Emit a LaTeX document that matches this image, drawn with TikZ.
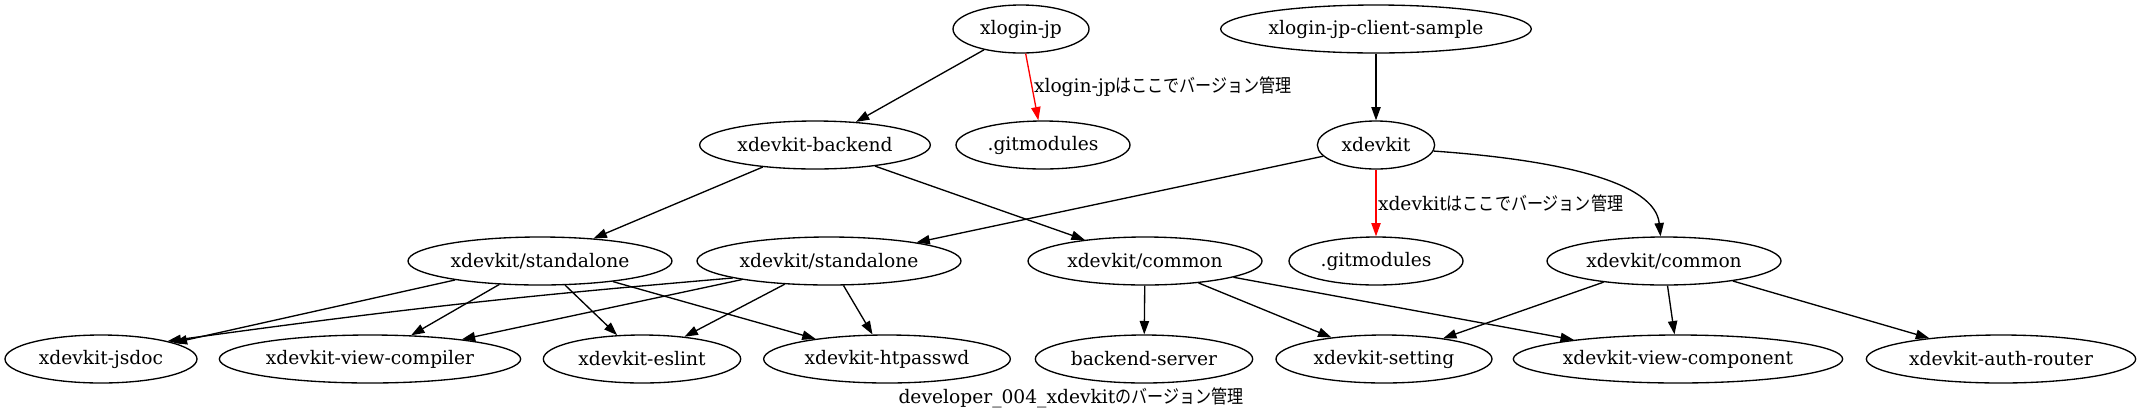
\documentclass[tikz,border=0pt]{standalone}
\usepackage{fontspec}
\setmainfont{DejaVu Serif}
\newfontfamily\jpfont[FakeStretch=0.86]{Noto Sans CJK JP}
\usetikzlibrary{arrows.meta,shapes.geometric}
\definecolor{PinRed}{RGB}{255,0,0}
\tikzset{
  repo/.style={ellipse,draw,line width=1pt,minimum height=36pt,minimum width=#1,
    inner sep=0pt,font=\fontsize{14pt}{16pt}\selectfont},
  dep/.style={-{Triangle[length=10pt,width=7pt]},line width=1pt},
  pinned/.style={dep,PinRed},
  note/.style={anchor=west,inner sep=1pt,text=black,font=\fontsize{14pt}{16pt}\selectfont}
}

\begin{document}
\begin{tikzpicture}[x=0.75pt,y=-0.75pt]
  \useasboundingbox (0,0) rectangle (2142,419);
  \node[repo=102pt] (xl) at (1021,29) {xlogin-jp};
  \node[repo=233pt] (xcs) at (1376,29) {xlogin-jp-client-sample};
  \node[repo=173pt] (bk) at (815,145) {xdevkit-backend};
  \node[repo=130.5pt] (gm1) at (1043,145) {.gitmodules};
  \node[repo=88pt] (xd) at (1376,145) {xdevkit};
  \node[repo=198pt] (sa1) at (540,261) {xdevkit/standalone};
  \node[repo=198pt] (sa2) at (829,261) {xdevkit/standalone};
  \node[repo=175.5pt] (cm1) at (1145,261) {xdevkit/common};
  \node[repo=130.5pt] (gm2) at (1376,261) {.gitmodules};
  \node[repo=175.5pt] (cm2) at (1664,261) {xdevkit/common};
  \node[repo=144pt] (js) at (101,359) {xdevkit-jsdoc};
  \node[repo=226pt] (vc) at (370,359) {xdevkit-view-compiler};
  \node[repo=148pt] (es) at (642,359) {xdevkit-eslint};
  \node[repo=185pt] (ht) at (887,359) {xdevkit-htpasswd};
  \node[repo=163pt] (bs) at (1144,359) {backend-server};
  \node[repo=162pt] (st) at (1384,359) {xdevkit-setting};
  \node[repo=247pt] (vp) at (1678,359) {xdevkit-view-component};
  \node[repo=202pt] (ar) at (2001,359) {xdevkit-auth-router};
  \node[note,anchor=center] (title) at (1071,398) {developer\_004\_xdevkit{\jpfont のバージョン管理}};

  \draw[dep] (xl) -- (bk);
  \draw[pinned] (xl) -- node[note] {xlogin-jp{\jpfont はここでバージョン管理}} (gm1);
  \draw[dep] (xcs) -- (xd);
  \draw[dep] (bk) -- (sa1);
  \draw[dep] (bk) -- (cm1);
  \draw[dep] (xd) -- (sa2);
  \draw[pinned] (xd) -- node[note] {xdevkit{\jpfont はここでバージョン管理}} (gm2);
  \draw[dep] (xd.-6) .. controls (1560,160) and (1655,182) .. (cm2.98);
  \foreach \t in {js,vc,es,ht}
    \draw[dep] (sa1) -- (\t);
  \draw[dep] (sa2.-170) .. controls (535,295) and (422,306) .. (js.15);
  \foreach \t in {vc,es,ht}
    \draw[dep] (sa2) -- (\t);
  \foreach \t in {bs,st,vp}
    \draw[dep] (cm1) -- (\t);
  \foreach \t in {st,vp,ar}
    \draw[dep] (cm2) -- (\t);
\end{tikzpicture}
\end{document}
